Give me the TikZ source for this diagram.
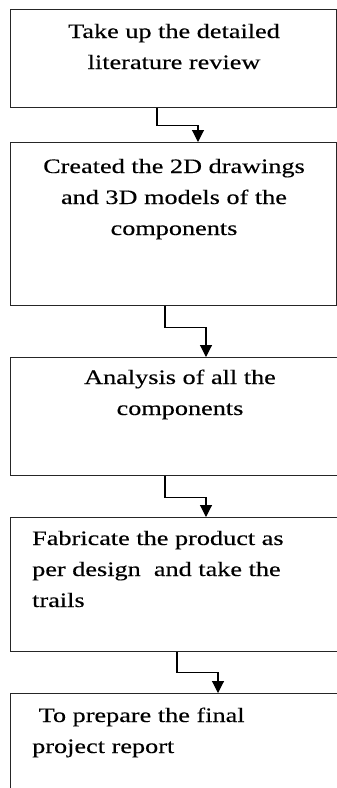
\documentclass[tikz,border=0pt]{standalone}
\usepackage{fontspec}
\setmainfont{Liberation Serif}[FakeStretch=1.28,FakeBold=0.3]
\usetikzlibrary{arrows.meta}
\begin{document}
\begin{tikzpicture}[x=1pt,y=-1pt,
  box/.style={draw=black!85,line width=1.3pt,anchor=north west,inner sep=0pt},
  txt/.style={inner sep=0pt,font=\fontsize{20.5}{31}\selectfont,text=black},
  conn/.style={draw=black,line width=1.1pt,-{Triangle[width=12pt,length=12pt]}}]
\useasboundingbox (0,0) rectangle (337,788);
% boxes
\node[box,minimum width=326pt,minimum height=98pt] (b1) at (10,9) {};
\node[box,minimum width=326pt,minimum height=163pt] (b2) at (10,142) {};
\node[box,minimum width=340pt,minimum height=118pt] (b3) at (10,357) {};
\node[box,minimum width=340pt,minimum height=134pt] (b4) at (10,517) {};
\node[box,minimum width=340pt,minimum height=110pt] (b5) at (10,693) {};
% texts (anchor base = baseline of last line)
\node[txt,anchor=base,align=center] (t1) at (174,69) {Take up the detailed\\literature review};
\node[txt,anchor=base,align=center] (t2) at (174,235) {Created the 2D drawings\\and 3D models of the\\components};
\node[txt,anchor=base,align=center] (t3) at (180,415) {Analysis of all the\\components};
\node[txt,anchor=base west,align=left] (t4) at (32,607) {Fabricate the product as\\per design\ \ and take the\\trails};
\node[txt,anchor=base west,align=left] (t5) at (32,753) {\ To prepare the final\\project report};
% connectors
\draw[conn] ([xshift=147pt]b1.south west) -- ++(0,17) -| ([xshift=188pt]b2.north west);
\draw[conn] ([xshift=155pt]b2.south west) -- ++(0,21) -| ([xshift=196pt]b3.north west);
\draw[conn] ([xshift=155pt]b3.south west) -- ++(0,21) -| ([xshift=196pt]b4.north west);
\draw[conn] ([xshift=167pt]b4.south west) -- ++(0,20) -| ([xshift=208pt]b5.north west);
\end{tikzpicture}
\end{document}
